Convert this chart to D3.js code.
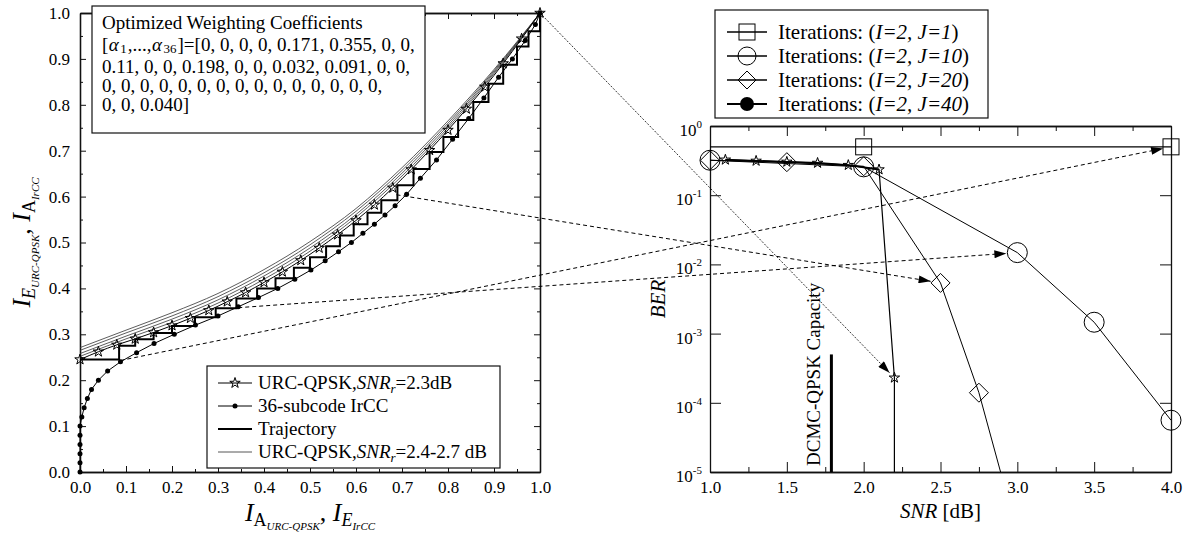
<!DOCTYPE html>
<html><head><meta charset="utf-8">
<script src="https://cdn.jsdelivr.net/npm/d3@7"></script>
<style>
body{margin:0;background:#fff}
svg{display:block}
text{font-family:"Liberation Serif","Times New Roman",serif;fill:#000}
</style>
</head><body>
<svg id="c" width="1184" height="535"></svg>
<script>
// ---------------- LEFT CHART DATA (EXIT chart) ----------------
const leftTicks = [0,0.1,0.2,0.3,0.4,0.5,0.6,0.7,0.8,0.9,1.0];
const leftMinor = [0.05,0.15,0.25,0.35,0.45,0.55,0.65,0.75,0.85,0.95];
const urcX = [0,0.04,0.08,0.12,0.16,0.20,0.24,0.28,0.32,0.36,0.40,0.44,0.48,0.52,0.56,0.60,0.64,0.68,0.72,0.76,0.80,0.84,0.88,0.92,0.96,1.00];
const urc23 = [0.245,0.262,0.277,0.290,0.304,0.319,0.335,0.352,0.371,0.391,0.413,0.436,0.461,0.488,0.517,0.548,0.582,0.619,0.659,0.701,0.745,0.791,0.839,0.890,0.944,1.0];
const bundleX = [0,0.1,0.2,0.3,0.4,0.5,0.6,0.7,0.8,0.9,1.0];
const urc24 = [0.252,0.290,0.326,0.368,0.420,0.481,0.555,0.645,0.750,0.868,1.0];
const urc25 = [0.258,0.296,0.333,0.375,0.427,0.488,0.561,0.651,0.755,0.871,1.0];
const urc26 = [0.265,0.303,0.340,0.382,0.434,0.495,0.568,0.657,0.760,0.874,1.0];
const urc27 = [0.271,0.309,0.347,0.389,0.441,0.502,0.574,0.663,0.765,0.877,1.0];
const irccX = [0,0,0,0,0,0,0.004,0.009,0.016,0.025,0.04,0.06,0.088,0.123,0.161,0.205,0.251,0.30,0.344,0.388,0.43,0.467,0.502,0.533,0.562,0.59,0.615,0.64,0.663,0.685,0.71,0.74,0.775,0.81,0.845,0.878,0.91,0.94,0.968,0.99,1.0];
const irccY = [0,0.02,0.04,0.06,0.08,0.10,0.12,0.14,0.16,0.18,0.20,0.22,0.24,0.26,0.28,0.30,0.32,0.34,0.36,0.38,0.40,0.42,0.44,0.46,0.48,0.50,0.52,0.54,0.56,0.58,0.605,0.64,0.68,0.725,0.77,0.815,0.86,0.90,0.94,0.975,1.0];
const trajX = [0,0.085,0.12,0.16,0.20,0.25,0.295,0.34,0.385,0.425,0.465,0.50,0.535,0.565,0.595,0.625,0.655,0.69,0.725,0.76,0.79,0.822,0.855,0.888,0.92,0.95,0.975,1.0];
const trajY = [0.245,0.275,0.289,0.303,0.318,0.337,0.357,0.378,0.40,0.422,0.445,0.468,0.492,0.515,0.54,0.565,0.592,0.625,0.66,0.697,0.73,0.767,0.806,0.846,0.887,0.927,0.96,1.0];
const coefLines = ["0.11, 0, 0, 0.198, 0, 0, 0.032, 0.091, 0, 0,",
                   "0, 0, 0, 0, 0, 0, 0, 0, 0, 0, 0, 0, 0, 0, 0,",
                   "0, 0, 0.040]"];

// ---------------- RIGHT CHART DATA (BER) ----------------
const snrTicks = [1.0,1.5,2.0,2.5,3.0,3.5,4.0];
const snrMinor = [1.25,1.75,2.25,2.75,3.25,3.75];
const berTicks = [1e-5,1e-4,1e-3,1e-2,1e-1,1];
const berExp = [-5,-4,-3,-2,-1,0];
const snrJ1 = [1.0,2.0,4.0];            const berJ1 = [0.5,0.5,0.5];
const markJ1 = [2.0,4.0];
const snrJ10 = [1.0,2.0,3.0,3.5,4.0];   const berJ10 = [0.32,0.257,0.0148,0.00146,5.6e-5];
const snrJ20 = [1.0,1.5,2.0,2.5,2.75,3.0]; const berJ20 = [0.32,0.30,0.262,0.0054,1.4e-4,1.3e-6];
const snrJ40 = [1.1,1.3,1.5,1.7,1.9,2.1,2.2,2.2]; const berJ40 = [0.325,0.313,0.303,0.292,0.272,0.235,2.3e-4,1e-7];
const capSNR = 1.79; const capBER = [1e-5,5e-4];
// arrows: left chart (IA, IE) -> right chart (SNR, BER)
const arrowFrom = [[0.088,0.243],[0.344,0.358],[0.688,0.604],[1.0,1.0]];
const arrowTo   = [[4.0,0.5],[3.0,0.0148],[2.5,0.0054],[2.2,2.3e-4]];

// ---------------- SETUP ----------------
const svg = d3.select('#c');
const xL = d3.scaleLinear().domain([0,1]).range([80,540]);
const yL = d3.scaleLinear().domain([0,1]).range([472,13]);
const xR = d3.scaleLinear().domain([1,4]).range([710,1171]);
const yR = d3.scaleLog().domain([1e-5,1]).range([472,126]);

const defs = svg.append('defs');
defs.append('clipPath').attr('id','clipR').append('rect')
  .attr('x',xR(1)).attr('y',yR(1)).attr('width',xR(4)-xR(1)).attr('height',yR(1e-5)-yR(1));
defs.append('marker').attr('id','arr').attr('viewBox','0 0 12 8').attr('refX',12).attr('refY',4)
  .attr('markerWidth',13).attr('markerHeight',8).attr('markerUnits','userSpaceOnUse').attr('orient','auto')
  .append('path').attr('d','M0,0 L12,4 L0,8 Z').attr('fill','#000');

function starPath(R){let p='';for(let i=0;i<10;i++){const r=i%2?R*0.38:R;const a=-Math.PI/2+i*Math.PI/5;p+=(i?'L':'M')+(r*Math.cos(a)).toFixed(2)+','+(r*Math.sin(a)).toFixed(2);}return p+'Z';}
const diamond = s => `M0,${-s}L${s},0L0,${s}L${-s},0Z`;

function styleAxis(g, fs){
  g.select('.domain').attr('stroke','#111').attr('stroke-width',1.3);
  g.selectAll('.tick line').attr('stroke','#111').attr('stroke-width',1);
  g.selectAll('.tick text').style('font-size',fs+'px').style('font-family','"Liberation Serif",serif').attr('fill','#000');
}

// ---------------- LEFT CHART ----------------
const gL = svg.append('g');
const fmt1 = d3.format('.1f');
[[d3.axisBottom(xL),`translate(0,${yL(0)})`,true],[d3.axisTop(xL),`translate(0,${yL(1)})`,false]].forEach(([ax,tr,lab])=>{
  gL.append('g').attr('transform',tr).call(ax.tickValues(leftTicks).tickFormat(lab?fmt1:'').tickSizeInner(-6).tickSizeOuter(0).tickPadding(9)).call(g=>styleAxis(g,17));
  gL.append('g').attr('transform',tr).call(ax.tickValues(leftMinor).tickFormat('').tickSizeInner(-3).tickSizeOuter(0)).call(g=>styleAxis(g,17));
});
[[d3.axisLeft(yL),`translate(${xL(0)},0)`,true],[d3.axisRight(yL),`translate(${xL(1)},0)`,false]].forEach(([ax,tr,lab])=>{
  gL.append('g').attr('transform',tr).call(ax.tickValues(leftTicks).tickFormat(lab?fmt1:'').tickSizeInner(-6).tickSizeOuter(0).tickPadding(10)).call(g=>styleAxis(g,17));
  gL.append('g').attr('transform',tr).call(ax.tickValues(leftMinor).tickFormat('').tickSizeInner(-3).tickSizeOuter(0)).call(g=>styleAxis(g,17));
});

const lineL = d3.line().x(d=>xL(d[0])).y(d=>yL(d[1]));
const lineLs = d3.line().x(d=>xL(d[0])).y(d=>yL(d[1])).curve(d3.curveMonotoneX);
[urc24,urc25,urc26,urc27].forEach(arr=>{
  gL.append('path').attr('d',lineLs(bundleX.map((x,i)=>[x,arr[i]]))).attr('fill','none').attr('stroke','#333').attr('stroke-width',0.8);
});
gL.append('path').attr('d',lineLs(urcX.map((x,i)=>[x,urc23[i]]))).attr('fill','none').attr('stroke','#000').attr('stroke-width',1);
gL.append('path').attr('d',lineL(irccX.map((x,i)=>[x,irccY[i]]))).attr('fill','none').attr('stroke','#000').attr('stroke-width',1);
const trajPts = [[trajX[0],trajY[0]]];
for(let i=1;i<trajX.length;i++){trajPts.push([trajX[i],trajY[i-1]]);trajPts.push([trajX[i],trajY[i]]);}
gL.append('path').attr('d',lineL(trajPts)).attr('fill','none').attr('stroke','#000').attr('stroke-width',2);
gL.selectAll('.dot').data(irccX.map((x,i)=>[x,irccY[i]])).join('circle')
  .attr('cx',d=>xL(d[0])).attr('cy',d=>yL(d[1])).attr('r',2.5).attr('fill','#000');
gL.selectAll('.star').data(urcX.map((x,i)=>[x,urc23[i]])).join('path')
  .attr('transform',d=>`translate(${xL(d[0])},${yL(d[1])})`).attr('d',starPath(5.5))
  .attr('fill','none').attr('stroke','#000').attr('stroke-width',1);

// coefficient text box
gL.append('rect').attr('x',92).attr('y',6).attr('width',333).attr('height',127).attr('fill','#fff').attr('stroke','#111').attr('stroke-width',1.2);
const tb = gL.append('g').style('font-size','19px');
tb.append('text').attr('x',102).attr('y',29).text('Optimized Weighting Coefficients');
// second line: [α1,...,α36]=[...] built from separate pieces placed side by side
const l2 = tb.append('g').attr('transform','translate(102,50.5)');
const pieces = [{t:'[',it:false,fs:19,dy:0,g:0.5},{t:'α',it:true,fs:19,dy:0,g:1.5},{t:'1',it:false,fs:13,dy:2.5,g:1},
  {t:',...,',it:false,fs:19,dy:0,g:0.5},{t:'α',it:true,fs:19,dy:0,g:1.5},{t:'36',it:false,fs:13,dy:2.5,g:1},
  {t:']=[0, 0, 0, 0, 0.171, 0.355, 0, 0,',it:false,fs:19,dy:0,g:0}];
let cx = 0;
pieces.forEach(p=>{
  const el = l2.append('text').attr('x',cx).attr('y',p.dy).style('font-size',p.fs+'px').style('font-style',p.it?'italic':'normal').text(p.t);
  cx += el.node().getComputedTextLength() + p.g;
});
coefLines.forEach((s,i)=>tb.append('text').attr('x',102).attr('y',73+i*19).text(s));

// left legend
const lg = gL.append('g');
lg.append('rect').attr('x',207).attr('y',366).attr('width',293).attr('height',102).attr('fill','#fff').attr('stroke','#111').attr('stroke-width',1.2);
const legL = [
  {y:383, type:'star'},{y:406,type:'dot'},{y:429,type:'traj'},{y:452,type:'thin'}];
legL.forEach(e=>{
  lg.append('line').attr('x1',218).attr('x2',252).attr('y1',e.y).attr('y2',e.y)
    .attr('stroke',e.type==='thin'?'#444':'#000').attr('stroke-width',e.type==='traj'?2:(e.type==='thin'?0.9:1));
  if(e.type==='star') lg.append('path').attr('transform',`translate(235,${e.y})`).attr('d',starPath(5.5)).attr('fill','none').attr('stroke','#000').attr('stroke-width',1);
  if(e.type==='dot') lg.append('circle').attr('cx',235).attr('cy',e.y).attr('r',2.5).attr('fill','#000');
});
function snrLabel(t, tail){
  t.append('tspan').text('URC-QPSK,');
  t.append('tspan').style('font-style','italic').text('SNR');
  t.append('tspan').style('font-style','italic').style('font-size','13px').attr('dy',4).text('r');
  t.append('tspan').attr('dy',-4).text(tail);
}
const lt = lg.append('g').style('font-size','19px');
snrLabel(lt.append('text').attr('x',258).attr('y',389),'=2.3dB');
lt.append('text').attr('x',258).attr('y',412).text('36-subcode IrCC');
lt.append('text').attr('x',258).attr('y',435).text('Trajectory');
snrLabel(lt.append('text').attr('x',258).attr('y',458),'=2.4-2.7 dB');

// left axis titles
const xt = gL.append('text').attr('x',xL(0.5)).attr('y',521).attr('text-anchor','middle');
xt.append('tspan').style('font-style','italic').style('font-size','26px').text('I');
xt.append('tspan').style('font-size','18px').attr('dy',5).text('A');
xt.append('tspan').style('font-style','italic').style('font-size','11px').attr('dy',4).text('URC-QPSK');
xt.append('tspan').style('font-size','26px').attr('dy',-9).text(', ');
xt.append('tspan').style('font-style','italic').style('font-size','26px').text('I');
xt.append('tspan').style('font-style','italic').style('font-size','18px').attr('dy',5).text('E');
xt.append('tspan').style('font-style','italic').style('font-size','11px').attr('dy',4).text('IrCC');
const yt = gL.append('text').attr('transform',`translate(30,${(yL(0)+yL(1))/2}) rotate(-90)`).attr('text-anchor','middle');
yt.append('tspan').style('font-style','italic').style('font-size','26px').text('I');
yt.append('tspan').style('font-style','italic').style('font-size','18px').attr('dy',5).text('E');
yt.append('tspan').style('font-style','italic').style('font-size','11px').attr('dy',4).text('URC-QPSK');
yt.append('tspan').style('font-size','26px').attr('dy',-9).text(', ');
yt.append('tspan').style('font-style','italic').style('font-size','26px').text('I');
yt.append('tspan').style('font-size','18px').attr('dy',5).text('A');
yt.append('tspan').style('font-style','italic').style('font-size','11px').attr('dy',4).text('IrCC');

// ---------------- RIGHT CHART ----------------
const gR = svg.append('g');
[[d3.axisBottom(xR),`translate(0,${yR(1e-5)})`,true],[d3.axisTop(xR),`translate(0,${yR(1)})`,false]].forEach(([ax,tr,lab])=>{
  gR.append('g').attr('transform',tr).call(ax.tickValues(snrTicks).tickFormat(lab?fmt1:'').tickSizeInner(-10).tickSizeOuter(0).tickPadding(9)).call(g=>styleAxis(g,17));
  gR.append('g').attr('transform',tr).call(ax.tickValues(snrMinor).tickFormat('').tickSizeInner(-5).tickSizeOuter(0)).call(g=>styleAxis(g,17));
});
gR.append('g').attr('transform',`translate(${xR(1)},0)`).call(d3.axisLeft(yR).tickValues(berTicks).tickFormat('').tickSizeInner(-11).tickSizeOuter(0)).call(g=>styleAxis(g,17));
gR.append('g').attr('transform',`translate(${xR(4)},0)`).call(d3.axisRight(yR).tickValues(berTicks).tickFormat('').tickSizeInner(-11).tickSizeOuter(0)).call(g=>styleAxis(g,17));
berTicks.forEach((b,i)=>{
  const t = gR.append('text').attr('x',xR(1)-8).attr('y',yR(b)+10).attr('text-anchor','end').style('font-size','17px');
  t.append('tspan').text('10');
  t.append('tspan').attr('dy',-8).style('font-size','11px').text(berExp[i]===0?'0':'-'+Math.abs(berExp[i]));
});

const lineR = d3.line().x(d=>xR(d[0])).y(d=>yR(d[1]));
const series = [
  {s:snrJ1,b:berJ1,w:1.1},{s:snrJ10,b:berJ10,w:1},{s:snrJ20,b:berJ20,w:1},{s:snrJ40,b:berJ40,w:1.2}];
const gLines = gR.append('g').attr('clip-path','url(#clipR)');
series.forEach(se=>{
  gLines.append('path').attr('d',lineR(se.s.map((x,i)=>[x,se.b[i]]))).attr('fill','none').attr('stroke','#000').attr('stroke-width',se.w);
});
gLines.append('path').attr('d',lineR(snrJ40.slice(0,6).map((x,i)=>[x,berJ40[i]]))).attr('fill','none').attr('stroke','#000').attr('stroke-width',2);

// capacity line
gR.append('line').attr('x1',xR(capSNR)).attr('x2',xR(capSNR)).attr('y1',yR(capBER[0])).attr('y2',yR(capBER[1])).attr('stroke','#000').attr('stroke-width',3);
gR.append('text').attr('transform',`translate(${xR(capSNR)-11},${yR(1e-5)-6}) rotate(-90)`).style('font-size','19px').text('DCMC-QPSK Capacity');

// markers
gR.selectAll('.sq').data(markJ1).join('rect').attr('x',d=>xR(d)-8).attr('y',yR(0.5)-8).attr('width',16).attr('height',16)
  .attr('fill','none').attr('stroke','#000').attr('stroke-width',1);
gR.selectAll('.ci').data(snrJ10.map((x,i)=>[x,berJ10[i]])).join('circle').attr('cx',d=>xR(d[0])).attr('cy',d=>yR(d[1])).attr('r',10)
  .attr('fill','none').attr('stroke','#000').attr('stroke-width',1);
gR.selectAll('.di').data(snrJ20.map((x,i)=>[x,berJ20[i]]).filter(d=>d[1]>=1e-5)).join('path')
  .attr('transform',d=>`translate(${xR(d[0])},${yR(d[1])})`).attr('d',diamond(9.5))
  .attr('fill','none').attr('stroke','#000').attr('stroke-width',1);
gR.selectAll('.st').data(snrJ40.map((x,i)=>[x,berJ40[i]]).filter(d=>d[1]>=1e-5)).join('path')
  .attr('transform',d=>`translate(${xR(d[0])},${yR(d[1])})`).attr('d',starPath(5.5))
  .attr('fill','none').attr('stroke','#000').attr('stroke-width',1);

// right legend
const rg = gR.append('g');
rg.append('rect').attr('x',715).attr('y',10).attr('width',273).attr('height',108).attr('fill','#fff').attr('stroke','#111').attr('stroke-width',1.2);
const legR = [{y:32,m:'sq',j:'1'},{y:56,m:'ci',j:'10'},{y:80,m:'di',j:'20'},{y:104,m:'fc',j:'40'}];
legR.forEach(e=>{
  rg.append('line').attr('x1',727).attr('x2',767).attr('y1',e.y).attr('y2',e.y).attr('stroke','#000').attr('stroke-width',e.m==='fc'?2:1.5);
  if(e.m==='sq') rg.append('rect').attr('x',739).attr('y',e.y-8).attr('width',16).attr('height',16).attr('fill','none').attr('stroke','#000');
  if(e.m==='ci') rg.append('circle').attr('cx',747).attr('cy',e.y).attr('r',9).attr('fill','none').attr('stroke','#000');
  if(e.m==='di') rg.append('path').attr('transform',`translate(747,${e.y})`).attr('d',diamond(9)).attr('fill','none').attr('stroke','#000');
  if(e.m==='fc') rg.append('circle').attr('cx',747).attr('cy',e.y).attr('r',7).attr('fill','#000');
  const t = rg.append('text').attr('x',778).attr('y',e.y+7).style('font-size','21px');
  t.append('tspan').text('Iterations: (');
  t.append('tspan').style('font-style','italic').text('I=2, J='+e.j);
  t.append('tspan').text(')');
});

// right axis titles
const st = gR.append('text').attr('x',(xR(1)+xR(4))/2).attr('y',518).attr('text-anchor','middle').style('font-size','21px');
st.append('tspan').style('font-style','italic').text('SNR');
st.append('tspan').text(' [dB]');
gR.append('text').attr('transform',`translate(665,${(yR(1)+yR(1e-5))/2}) rotate(-90)`).attr('text-anchor','middle')
  .style('font-size','21px').style('font-style','italic').text('BER');

// ---------------- ARROWS ----------------
const offs = [8,11,10,7];
const ga = svg.append('g');
arrowFrom.forEach((f,i)=>{
  const x1 = xL(f[0]), y1 = yL(f[1]);
  const cx2 = xR(arrowTo[i][0]), cy2 = yR(arrowTo[i][1]);
  const dx = cx2-x1, dy = cy2-y1, L = Math.hypot(dx,dy);
  const x2 = cx2 - dx/L*offs[i], y2 = cy2 - dy/L*offs[i];
  ga.append('line').attr('x1',x1).attr('y1',y1).attr('x2',x2).attr('y2',y2)
    .attr('stroke','#000').attr('stroke-width',i===3?0.8:1).attr('stroke-dasharray',i===3?'2,1.5':'4,3')
    .attr('marker-end','url(#arr)');
});
</script>
</body></html>
